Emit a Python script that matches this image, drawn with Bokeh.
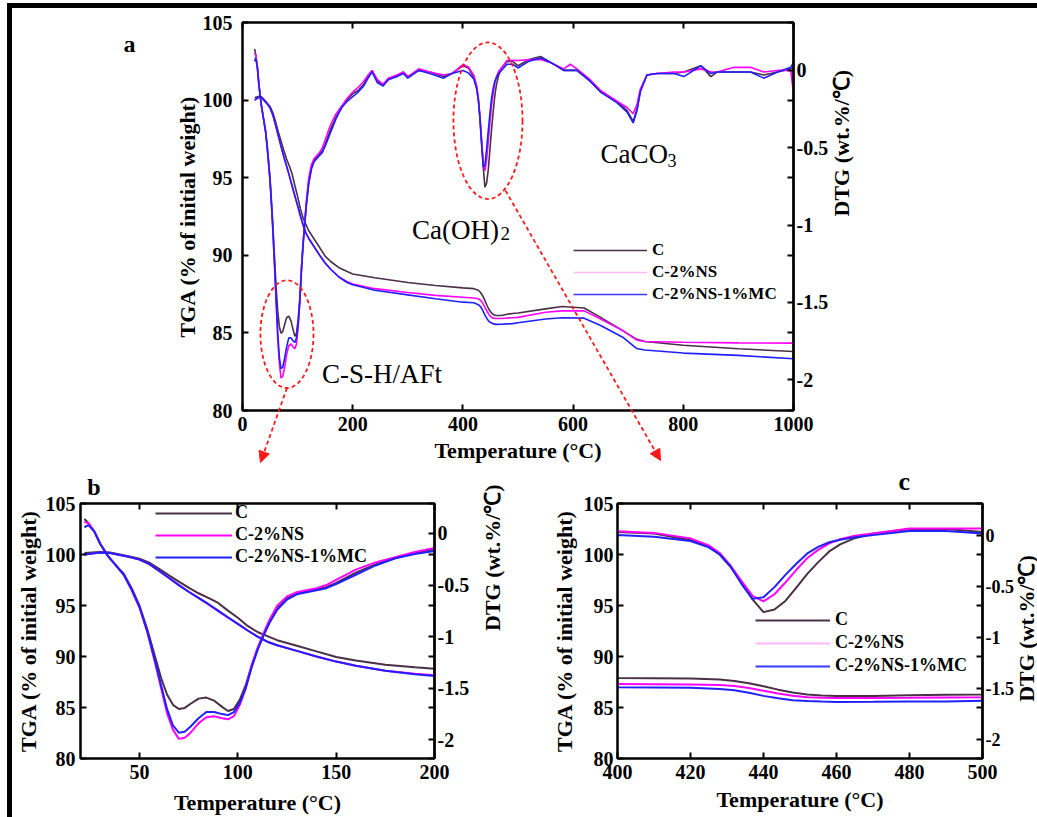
import math
from bokeh.plotting import figure
from bokeh.models import (Range1d, LinearAxis, FixedTicker, Legend, LegendItem,
                          Label, Arrow, NormalHead, Spacer, GridBox)
from bokeh.layouts import column, row
from bokeh.core.properties import value
from bokeh.embed import file_html
from bokeh.resources import INLINE

# ---------------- data ----------------
series_names = ["C", "C-2%NS", "C-2%NS-1%MC"]

# TGA, % of initial weight
temp_tga = [22, 26, 30, 35, 40, 45, 50, 55, 60, 65, 70, 75, 80, 85, 90, 95, 100, 105, 110, 115,
            120, 130, 140, 150, 160, 175, 190, 200, 240, 300, 350, 400, 420, 428, 432, 436, 440,
            444, 448, 452, 456, 460, 470, 480, 490, 500, 550, 580, 620, 650, 690, 715, 730, 800,
            900, 1000]
tga_c = [100.15, 100.2, 100.25, 100.2, 100.0, 99.8, 99.58, 99.2, 98.6, 97.95, 97.35, 96.75, 96.2,
         95.75, 95.25, 94.5, 93.8, 93.0, 92.4, 92.0, 91.6, 91.05, 90.5, 89.95, 89.6, 89.2, 88.95,
         88.8, 88.55, 88.25, 88.05, 87.9, 87.85, 87.75, 87.6, 87.38, 87.08, 86.75, 86.47, 86.28,
         86.17, 86.12, 86.12, 86.2, 86.25, 86.28, 86.55, 86.7, 86.6, 86.0, 85.15, 84.6, 84.45,
         84.2, 83.98, 83.8]
tga_ns = [100.0, 100.1, 100.2, 100.15, 99.95, 99.75, 99.5, 99.05, 98.4, 97.7, 97.0, 96.35, 95.75,
          95.1, 94.45, 93.8, 93.2, 92.55, 91.95, 91.45, 91.1, 90.55, 90.0, 89.5, 89.1, 88.6, 88.3,
          88.15, 87.85, 87.6, 87.42, 87.3, 87.25, 87.2, 87.1, 86.92, 86.65, 86.38, 86.15, 86.0,
          85.95, 85.93, 85.93, 85.95, 85.98, 86.0, 86.33, 86.42, 86.42, 85.9, 85.15, 84.55, 84.45,
          84.4, 84.36, 84.34]
tga_ns_mc = [100.0, 100.1, 100.2, 100.15, 99.95, 99.75, 99.5, 99.05, 98.4, 97.7, 97.0, 96.35,
             95.75, 95.15, 94.5, 93.85, 93.2, 92.55, 91.95, 91.45, 91.1, 90.55, 90.0, 89.5, 89.1,
             88.6, 88.25, 88.1, 87.75, 87.45, 87.2, 86.98, 86.94, 86.82, 86.7, 86.45, 86.14, 85.9,
             85.72, 85.64, 85.58, 85.55, 85.56, 85.58, 85.6, 85.65, 85.9, 85.98, 85.95, 85.48,
             84.72, 84.0, 83.9, 83.7, 83.55, 83.33]

# DTG, wt.%/°C
temp_dtg = [22, 24, 27, 30, 34, 38, 42, 46, 50, 54, 58, 61, 64, 67, 70, 73, 76, 80, 84, 88,
            92, 95, 98, 101, 104, 107, 110, 113, 116, 120, 125, 130, 135, 140, 145, 150, 160, 170,
            180, 190, 200, 210, 220, 228, 235, 245, 255, 265, 280, 292, 300, 320, 340, 365, 380,
            400, 410, 420, 425, 428, 431, 434, 437, 440, 443, 446, 449, 452, 455, 458, 461, 465,
            470, 480, 490, 500, 520, 541, 560, 583, 595, 607, 631, 650, 680, 698, 709, 716, 722,
            734, 752, 783, 801, 832, 850, 862, 892, 922, 946, 971, 995, 1000]
dtg_c = [0.14, 0.10, 0.02, -0.10, -0.22, -0.31, -0.39, -0.53, -0.70, -0.93,
         -1.20, -1.40, -1.56, -1.66, -1.70, -1.69, -1.65, -1.60, -1.59, -1.62,
         -1.68, -1.72, -1.70, -1.61, -1.47, -1.28, -1.12, -0.99, -0.86, -0.73,
         -0.63, -0.58, -0.56, -0.54, -0.52, -0.48, -0.38, -0.30, -0.24, -0.19,
         -0.15, -0.13, -0.09, -0.04, 0.00, -0.07, -0.10, -0.05, -0.04, -0.01,
         -0.04, 0.00, -0.01, -0.04, -0.02, 0.03, 0.016, -0.048, -0.11, -0.19,
         -0.31, -0.47, -0.63, -0.755, -0.73, -0.645, -0.515, -0.38, -0.265, -0.16,
         -0.09, -0.03, 0.016, 0.057, 0.06, 0.03, 0.07, 0.09, 0.05, 0.00,
         0.00, 0.00, -0.07, -0.14, -0.20, -0.26, -0.33, -0.25, -0.13, -0.03,
         -0.02, -0.02, -0.01, 0.03, -0.04, -0.01, -0.01, -0.01, -0.03, -0.01,
         0.01, 0.02]
dtg_ns = [0.11, 0.10, 0.02, -0.10, -0.22, -0.31, -0.40, -0.55, -0.72, -0.96,
          -1.26, -1.50, -1.74, -1.90, -1.99, -1.98, -1.93, -1.84, -1.78, -1.77,
          -1.79, -1.80, -1.77, -1.66, -1.50, -1.28, -1.11, -0.97, -0.84, -0.70,
          -0.61, -0.57, -0.55, -0.53, -0.50, -0.45, -0.35, -0.28, -0.23, -0.18,
          -0.14, -0.11, -0.07, -0.03, 0.00, -0.06, -0.09, -0.05, -0.03, -0.01,
          -0.04, 0.01, -0.01, -0.03, -0.02, 0.038, 0.022, -0.032, -0.10, -0.175,
          -0.30, -0.45, -0.595, -0.65, -0.58, -0.465, -0.34, -0.225, -0.145, -0.08,
          -0.04, -0.005, 0.015, 0.064, 0.066, 0.064, 0.07, 0.07, 0.05, 0.01,
          0.04, 0.01, -0.06, -0.13, -0.20, -0.24, -0.28, -0.22, -0.12, -0.03,
          -0.02, -0.01, -0.01, 0.01, -0.01, -0.01, 0.02, 0.02, -0.01, 0.00,
          0.00, -0.15]
dtg_ns_mc = [0.06, 0.08, 0.02, -0.10, -0.22, -0.31, -0.40, -0.54, -0.71, -0.95,
             -1.24, -1.47, -1.70, -1.86, -1.93, -1.92, -1.87, -1.79, -1.73, -1.73,
             -1.75, -1.76, -1.73, -1.64, -1.50, -1.30, -1.13, -0.99, -0.87, -0.74,
             -0.64, -0.59, -0.57, -0.55, -0.53, -0.49, -0.40, -0.31, -0.24, -0.20,
             -0.17, -0.14, -0.10, -0.05, -0.01, -0.08, -0.10, -0.06, -0.04, -0.02,
             -0.05, 0.00, -0.02, -0.05, -0.02, 0.00, -0.016, -0.057, -0.12, -0.19,
             -0.31, -0.48, -0.625, -0.61, -0.51, -0.39, -0.28, -0.18, -0.115, -0.07,
             -0.045, -0.02, 0.00, 0.04, 0.04, 0.016, 0.06, 0.08, 0.05, 0.00,
             0.00, 0.00, -0.07, -0.14, -0.21, -0.27, -0.34, -0.26, -0.14, -0.03,
             -0.02, -0.02, -0.04, 0.03, -0.02, -0.01, -0.01, -0.01, -0.05, -0.01,
             0.02, 0.05]

tga_ticks = [80, 85, 90, 95, 100, 105]
dtg_ticks = [-2, -1.5, -1, -0.5, 0]
dtg_tick_labels = ["-2", "-1.5", "-1", "-0.5", "0"]
temp_ticks_a = [0, 200, 400, 600, 800, 1000]
temp_ticks_b = [50, 100, 150, 200]
temp_ticks_c = [400, 420, 440, 460, 480, 500]

# ---------------- styling ----------------
SERIF = "Liberation Serif"
COLORS = ["#4a2f47", "#ff00ff", "#2020ff"]
PALE_LEGEND = ["#4a2f47", "#ffb8ff", "#3838ff"]
RED = "#ff1a1a"
TGA_TITLE = "TGA (% of initial weight)"
DTG_TITLE = "DTG (wt.%/\u2103)"
TEMP_TITLE = "Temperature (\u00b0C)"

PAGE_W, PAGE_H = 1037, 817
ORIGIN_X, ORIGIN_Y = 12, 8          # panels start right of / below the page rules
A_W, A_H = 1025, 458                # panel a canvas
A_BORDERS = (230, 244, 14, 56)      # left, right, top, bottom


def style_axis(ax, ticks, labels=None, standoff=4, title=None, title_standoff=4, show=True,
               size="20px"):
    ax.ticker = FixedTicker(ticks=ticks)
    ax.axis_line_color = "black"
    ax.axis_line_width = 2
    ax.major_tick_line_color = "black"
    ax.major_tick_line_width = 2
    ax.major_tick_in = 6
    ax.major_tick_out = 0
    ax.minor_tick_in = 0
    ax.minor_tick_out = 0
    ax.major_label_text_font = SERIF
    ax.major_label_text_font_style = "bold"
    ax.major_label_text_color = "black"
    if show:
        ax.major_label_text_font_size = size
        ax.major_label_standoff = standoff
        if labels is not None:
            ax.major_label_overrides = {t: l for t, l in zip(ticks, labels)}
    else:
        ax.major_label_text_font_size = "1px"
        ax.major_label_standoff = 0
        ax.major_label_overrides = {t: "" for t in ticks}
    if title:
        ax.axis_label = title
        ax.axis_label_text_font = SERIF
        ax.axis_label_text_font_style = "bold"
        ax.axis_label_text_font_size = "22px"
        ax.axis_label_text_color = "black"
        ax.axis_label_standoff = title_standoff


def make_panel(width, height, borders, x_rng, x_ticks, dtg_rng, line_width,
               left_std, right_std, dtg_title_std, bottom_title_std, legend_cfg, legend_colors,
               dtg_axis_title=True, dtg_label_size="20px"):
    p = figure(width=width, height=height, x_range=Range1d(*x_rng), y_range=Range1d(80, 105),
               output_backend="svg", toolbar_location=None, title=None,
               min_border_left=borders[0], min_border_right=borders[1],
               min_border_top=borders[2], min_border_bottom=borders[3])
    p.extra_y_ranges = {"dtg": Range1d(*dtg_rng)}
    p.grid.visible = False
    p.outline_line_color = "black"
    p.outline_line_width = 2
    p.background_fill_color = "white"
    p.border_fill_color = "white"

    style_axis(p.xaxis[0], x_ticks, standoff=6, title=TEMP_TITLE, title_standoff=bottom_title_std)
    style_axis(p.yaxis[0], tga_ticks, standoff=left_std[0], title=TGA_TITLE,
               title_standoff=left_std[1])

    top = LinearAxis()
    style_axis(top, x_ticks, show=False)
    p.add_layout(top, "above")

    mirror = LinearAxis()
    style_axis(mirror, tga_ticks, show=False)
    p.add_layout(mirror, "right")

    dtg_ax = LinearAxis(y_range_name="dtg")
    style_axis(dtg_ax, dtg_ticks, labels=dtg_tick_labels, standoff=right_std,
               title=DTG_TITLE if dtg_axis_title else None, title_standoff=dtg_title_std,
               size=dtg_label_size)
    if dtg_axis_title:
        dtg_ax.axis_label_orientation = math.pi / 2
    p.add_layout(dtg_ax, "right")

    tga_sets = [tga_c, tga_ns, tga_ns_mc]
    dtg_sets = [dtg_c, dtg_ns, dtg_ns_mc]
    items = []
    for name, col, lcol, tg, dt in zip(series_names, COLORS, legend_colors, tga_sets, dtg_sets):
        r = p.line(temp_tga, tg, line_color=col, line_width=line_width)
        p.line(temp_dtg, dt, line_color=col, line_width=line_width, y_range_name="dtg")
        if lcol != col:
            # single-point line: invisible on the plot, gives the legend a lighter swatch
            r = p.line(temp_tga[:1], tg[:1], line_color=lcol, line_width=line_width)
        items.append(LegendItem(label=name, renderers=[r]))

    lx, ly, gw, spacing, fsize, lstd = legend_cfg
    legend = Legend(items=items, location=(lx, ly), orientation="vertical",
                    glyph_width=gw, glyph_height=20, label_height=20, spacing=spacing,
                    padding=0, margin=0, label_standoff=lstd,
                    label_text_font=SERIF, label_text_font_style="bold",
                    label_text_font_size=fsize, label_text_color="black",
                    background_fill_alpha=0, border_line_alpha=0)
    p.add_layout(legend)
    return p


def note(p, x, y, text, size):
    p.add_layout(Label(x=x, y=y, text=text, text_font=SERIF, text_font_size=size,
                       text_color="black", text_align="left", text_baseline="alphabetic"))


# ---------------- panel a: full range ----------------
fig_a = make_panel(A_W, A_H, A_BORDERS, (0, 1000), temp_ticks_a, (-2.2, 0.31), 1.6,
                   (10, 0), 3, 10, 4, (331, 106, 74, 2, "17px", 5), PALE_LEGEND)
note(fig_a, 144.3, 82.35, "C-S-H/AFt", "27px")
note(fig_a, 307.8, 91.65, "Ca(OH)", "27px")
note(fig_a, 468.2, 91.39, "2", "19px")
note(fig_a, 649.9, 96.53, "CaCO", "27px")
note(fig_a, 771.1, 96.14, "3", "18px")

# dashed rings around the two main DTG events
RING_CSH = (80.7, 84.92, 96.3, 6.94)       # centre T, centre TGA, width, height
RING_CH = (445.5, 98.67, 125.4, 10.09)
for cx, cy, w, h in (RING_CSH, RING_CH):
    fig_a.ellipse(x=[cx], y=[cy], width=[w], height=[h], fill_alpha=0,
                  line_color=RED, line_width=1.8, line_dash="4 3")

# ---------------- panel b: 20-200 °C ----------------
fig_b = make_panel(508, 351, (66, 77, 37, 55), (20, 200), temp_ticks_b, (-2.18, 0.29), 2.0,
                   (5, 2), 3, 20, 8, (75, 191, 77, 1, "18px", 3), COLORS)

# ---------------- panel c: 400-500 °C ----------------
fig_c = make_panel(517, 351, (97, 55, 31, 58), (400, 500), temp_ticks_c, (-2.19, 0.31), 2.0,
                   (4, 4), 3, 0, 5, (138, 82, 75, 2, "18px", 5), PALE_LEGEND,
                   dtg_axis_title=False, dtg_label_size="18px")

# ---------------- page rules ----------------
top_bar = Spacer(width=PAGE_W - ORIGIN_X, height=5, styles={"background-color": "black"})
left_bar = Spacer(width=5, height=PAGE_H - 3, styles={"background-color": "black"})
panels = column(top_bar, fig_a, row(fig_b, fig_c))
main = column(Spacer(width=PAGE_W, height=3),
              row(Spacer(width=7, height=PAGE_H - 3), left_bar, panels))

# ---------------- transparent page overlay: letters, zoom arrows, edge title ----------------
overlay = figure(width=PAGE_W, height=PAGE_H, x_range=Range1d(0, PAGE_W),
                 y_range=Range1d(PAGE_H, 0), x_axis_type=None, y_axis_type=None,
                 output_backend="svg", toolbar_location=None,
                 min_border_left=0, min_border_right=0, min_border_top=0, min_border_bottom=0)
overlay.outline_line_color = None
overlay.background_fill_alpha = 0
overlay.border_fill_alpha = 0
overlay.grid.visible = False

a_left = ORIGIN_X + A_BORDERS[0]
a_right = ORIGIN_X + A_W - A_BORDERS[1]
a_top = ORIGIN_Y + A_BORDERS[2]
a_bottom = ORIGIN_Y + A_H - A_BORDERS[3]


def a_to_page(t, w):
    """(temperature, TGA) on panel a -> page pixels."""
    return (a_left + t / 1000 * (a_right - a_left),
            a_bottom - (w - 80) / 25 * (a_bottom - a_top))


arrow_starts = [a_to_page(RING_CSH[0], RING_CSH[1] - RING_CSH[3] / 2), a_to_page(477.3, 94.17)]
arrow_ends = [(260, 462), (660, 460)]
for (xs, ys), (xe, ye) in zip(arrow_starts, arrow_ends):
    overlay.add_layout(Arrow(x_start=xs, y_start=ys, x_end=xe, y_end=ye,
                             line_color=RED, line_width=1.8, line_dash="4 3",
                             end=NormalHead(size=11, fill_color=RED, line_color=RED,
                                            line_width=1)))

overlay.text(x=[123, 86.7], y=[43, 486.7], text=["a", "b"], text_font=value(SERIF),
             text_font_style="bold", text_font_size="24px", text_color="black",
             text_align="left", text_baseline="alphabetic")
overlay.text(x=[898], y=[480.7], text=["c"], text_font=value(SERIF),
             text_font_style="bold", text_font_size="26px", text_color="black",
             text_align="left", text_baseline="alphabetic")
# DTG title of panel c sits against the page edge
overlay.text(x=[1025.5], y=[628], text=[DTG_TITLE], angle=math.pi / 2, text_font=value(SERIF),
             text_font_style="bold", text_font_size="22px", text_color="black",
             text_align="center", text_baseline="middle")

root = GridBox(children=[(main, 0, 0), (overlay, 0, 0)])

with open("out.html", "w") as f:
    f.write(file_html(root, INLINE))
